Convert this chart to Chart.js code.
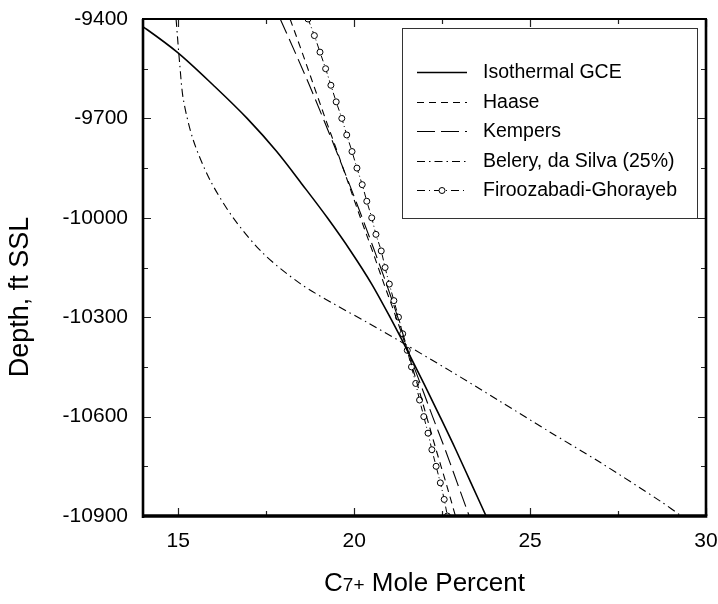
<!DOCTYPE html>
<html>
<head>
<meta charset="utf-8">
<script src="https://cdn.jsdelivr.net/npm/chart.js@4.4.1/dist/chart.umd.min.js"></script>
<style>
  html, body { margin: 0; padding: 0; background: #fff; }
  #wrap { width: 718px; height: 604px; }
</style>
</head>
<body>
<div id="wrap"><canvas id="chart" width="718" height="604"></canvas></div>
<script>
// depth grid, ft SSL (smooth model curves)
const depths = [-9400, -9500, -9600, -9700, -9800, -9900, -10000, -10100,
  -10200, -10300, -10400, -10500, -10600, -10700, -10800, -10900];

// C7+ mole percent
const isothermal = [13.7, 14.97, 16.0, 16.96, 17.8, 18.53, 19.24, 19.9,
  20.5, 21.02, 21.51, 21.98, 22.44, 22.89, 23.32, 23.75];
const haase = [18.18, 18.52, 18.85, 19.18, 19.52, 19.85, 20.18, 20.52,
  20.85, 21.19, 21.51, 21.79, 22.06, 22.33, 22.61, 22.88];
const kempers = [17.9, 18.32, 18.73, 19.12, 19.5, 19.87, 20.23, 20.58,
  20.92, 21.24, 21.53, 21.88, 22.23, 22.59, 22.93, 23.27];

const beleryDepths = [-9400, -9544, -9645, -9766, -9887, -10001, -10108, -10198,
  -10259, -10315, -10373, -10462, -10554, -10647, -10738, -10855, -10900];
const belery = [14.94, 15.05, 15.15, 15.43, 15.91, 16.57, 17.42, 18.46,
  19.41, 20.36, 21.31, 22.73, 24.15, 25.57, 26.99, 28.7, 29.3];

const firooDepths = [-9400, -9450, -9500, -9550, -9600, -9650, -9700, -9750,
  -9800, -9850, -9900, -9950, -10000, -10050, -10100, -10150, -10200, -10250,
  -10300, -10350, -10400, -10450, -10500, -10550, -10600, -10650, -10700,
  -10750, -10800, -10850, -10900];
const firoo = [18.69, 18.87, 19.03, 19.19, 19.34, 19.49, 19.65, 19.79,
  19.94, 20.08, 20.23, 20.36, 20.5, 20.62, 20.77, 20.88, 21.0, 21.13,
  21.26, 21.38, 21.51, 21.63, 21.75, 21.86, 21.98, 22.1, 22.21,
  22.33, 22.45, 22.56, 22.65];

const labels = ["Isothermal GCE", "Haase", "Kempers",
  "Belery, da Silva (25%)", "Firoozabadi-Ghorayeb"];

const xMajor = [15, 20, 25, 30];
const xMinor = [17.5, 22.5, 27.5];
const yMajor = [-10900, -10600, -10300, -10000, -9700, -9400];
const yMinor = [-10750, -10450, -10150, -9850, -9550];

const FONT = '"Liberation Sans", Arial, Helvetica, sans-serif';

const pts = (xs, ys) => xs.map((x, i) => ({ x: x, y: ys[i] }));

// keep the plot box fixed: no extra padding for edge labels
const noPad = s => {
  s.paddingLeft = 0; s.paddingRight = 0;
  s.paddingTop = 0; s.paddingBottom = 0;
};

// frame + inward ticks on all four sides
const frame = {
  id: "frame",
  afterDatasetsDraw(chart) {
    const { ctx, chartArea: a, scales } = chart;
    const x = scales.x, y = scales.y;
    ctx.save();
    ctx.strokeStyle = "#222";
    ctx.lineWidth = 1.2;
    ctx.beginPath();
    xMajor.concat(xMinor).forEach(v => {
      const len = xMajor.includes(v) ? 8 : 5;
      const px = Math.round(x.getPixelForValue(v)) + 0.5;
      ctx.moveTo(px, a.bottom); ctx.lineTo(px, a.bottom - len);
      ctx.moveTo(px, a.top); ctx.lineTo(px, a.top + len);
    });
    yMajor.concat(yMinor).forEach(v => {
      const len = yMajor.includes(v) ? 8 : 5;
      const py = Math.round(y.getPixelForValue(v)) + 0.5;
      ctx.moveTo(a.left, py); ctx.lineTo(a.left + len, py);
      ctx.moveTo(a.right, py); ctx.lineTo(a.right - len, py);
    });
    ctx.stroke();

    ctx.strokeStyle = "#000";
    const line = (w, x1, y1, x2, y2) => {
      ctx.lineWidth = w;
      ctx.beginPath(); ctx.moveTo(x1, y1); ctx.lineTo(x2, y2); ctx.stroke();
    };
    line(2.2, a.left - 1, a.top, a.right + 1, a.top);
    line(2.6, a.right, a.top, a.right, a.bottom);
    line(2.6, a.left, a.top, a.left, a.bottom + 2);
    line(3.6, a.left - 1, a.bottom, a.right + 1.3, a.bottom);
    ctx.restore();
  }
};

// legend box inside the plot, upper right
const insetLegend = {
  id: "insetLegend",
  afterDatasetsDraw(chart) {
    const { ctx, chartArea: a } = chart;
    const bx = a.left + 259, by = a.top + 9, bw = 295, bh = 190;
    ctx.save();
    ctx.fillStyle = "#fff";
    ctx.fillRect(bx, by, bw, bh);
    ctx.strokeStyle = "#333";
    ctx.lineWidth = 1;
    ctx.strokeRect(bx + 0.5, by + 0.5, bw, bh);
    ctx.font = "19.5px " + FONT;
    ctx.textBaseline = "middle";
    chart.data.datasets.forEach((ds, i) => {
      const ry = Math.round(by + 44 + i * 29.5) + 0.5;
      ctx.strokeStyle = "#000";
      ctx.lineWidth = ds.borderWidth;
      ctx.setLineDash(ds.legendDash || ds.borderDash || []);
      ctx.beginPath();
      ctx.moveTo(bx + 15, ry); ctx.lineTo(bx + 65, ry);
      ctx.stroke();
      ctx.setLineDash([]);
      if (ds.pointRadius > 0) {
        ctx.fillStyle = "#fff";
        ctx.beginPath();
        ctx.arc(bx + 40, ry, ds.pointRadius, 0, Math.PI * 2);
        ctx.fill();
        ctx.lineWidth = 1;
        ctx.stroke();
      }
      ctx.fillStyle = "#000";
      ctx.fillText(ds.label, bx + 81, ry);
    });
    ctx.restore();
  }
};

// axis titles (x title carries a subscript)
const axisTitles = {
  id: "axisTitles",
  afterDraw(chart) {
    const { ctx, chartArea: a } = chart;
    ctx.save();
    ctx.fillStyle = "#000";
    ctx.textBaseline = "alphabetic";
    const big = "26px " + FONT, small = "19px " + FONT;
    const parts = [["C", big], ["7+", small], [" Mole Percent", big]];
    let total = 0;
    parts.forEach(p => { ctx.font = p[1]; total += ctx.measureText(p[0]).width; });
    let cx = (a.left + a.right) / 2 - total / 2;
    parts.forEach(p => {
      ctx.font = p[1];
      ctx.fillText(p[0], cx, 591);
      cx += ctx.measureText(p[0]).width;
    });
    ctx.font = "27px " + FONT;
    ctx.textAlign = "center";
    ctx.translate(28, 297);
    ctx.rotate(-Math.PI / 2);
    ctx.fillText("Depth, ft SSL", 0, 0);
    ctx.restore();
  }
};

new Chart(document.getElementById("chart"), {
  type: "line",
  data: {
    datasets: [
      {
        label: labels[0],
        data: pts(isothermal, depths),
        borderColor: "#000",
        borderWidth: 1.6,
        pointRadius: 0,
        cubicInterpolationMode: "monotone",
      },
      {
        label: labels[1],
        data: pts(haase, depths),
        borderColor: "#000",
        borderWidth: 1.1,
        borderDash: [7, 5],
        pointRadius: 0,
        cubicInterpolationMode: "monotone",
      },
      {
        label: labels[2],
        data: pts(kempers, depths),
        borderColor: "#000",
        borderWidth: 1.1,
        borderDash: [16, 6],
        legendDash: [18, 6],
        pointRadius: 0,
        cubicInterpolationMode: "monotone",
      },
      {
        label: labels[3],
        data: pts(belery, beleryDepths),
        borderColor: "#000",
        borderWidth: 1.1,
        borderDash: [8, 4, 1.5, 4],
        pointRadius: 0,
        tension: 0.3,
      },
      {
        label: labels[4],
        data: pts(firoo, firooDepths),
        borderColor: "#000",
        borderWidth: 1,
        borderDash: [6, 3, 1, 3],
        legendDash: [8, 4, 1, 4],
        pointRadius: 3,
        pointBorderWidth: 1,
        pointBackgroundColor: "#fff",
        pointBorderColor: "#000",
        cubicInterpolationMode: "monotone",
      },
    ],
  },
  options: {
    responsive: false,
    animation: false,
    events: [],
    layout: { padding: { left: 0, top: 19, right: 12, bottom: 0 } },
    plugins: {
      legend: { display: false },
      tooltip: { enabled: false },
    },
    scales: {
      x: {
        type: "linear",
        min: 14,
        max: 30,
        grid: { display: false, drawTicks: false },
        border: { display: false },
        afterBuildTicks: s => { s.ticks = xMajor.map(v => ({ value: v })); },
        afterFit: s => { s.height = 88; noPad(s); },
        ticks: {
          padding: 13,
          color: "#000",
          font: { family: FONT, size: 21 },
          callback: v => String(v),
        },
      },
      y: {
        type: "linear",
        min: -10900,
        max: -9400,
        grid: { display: false, drawTicks: false },
        border: { display: false },
        afterBuildTicks: s => { s.ticks = yMajor.map(v => ({ value: v })); },
        afterFit: s => { s.width = 143; noPad(s); },
        ticks: {
          padding: 15,
          color: "#000",
          font: { family: FONT, size: 21 },
          callback: v => String(v),
        },
      },
    },
  },
  plugins: [frame, insetLegend, axisTitles],
});
</script>
</body>
</html>
